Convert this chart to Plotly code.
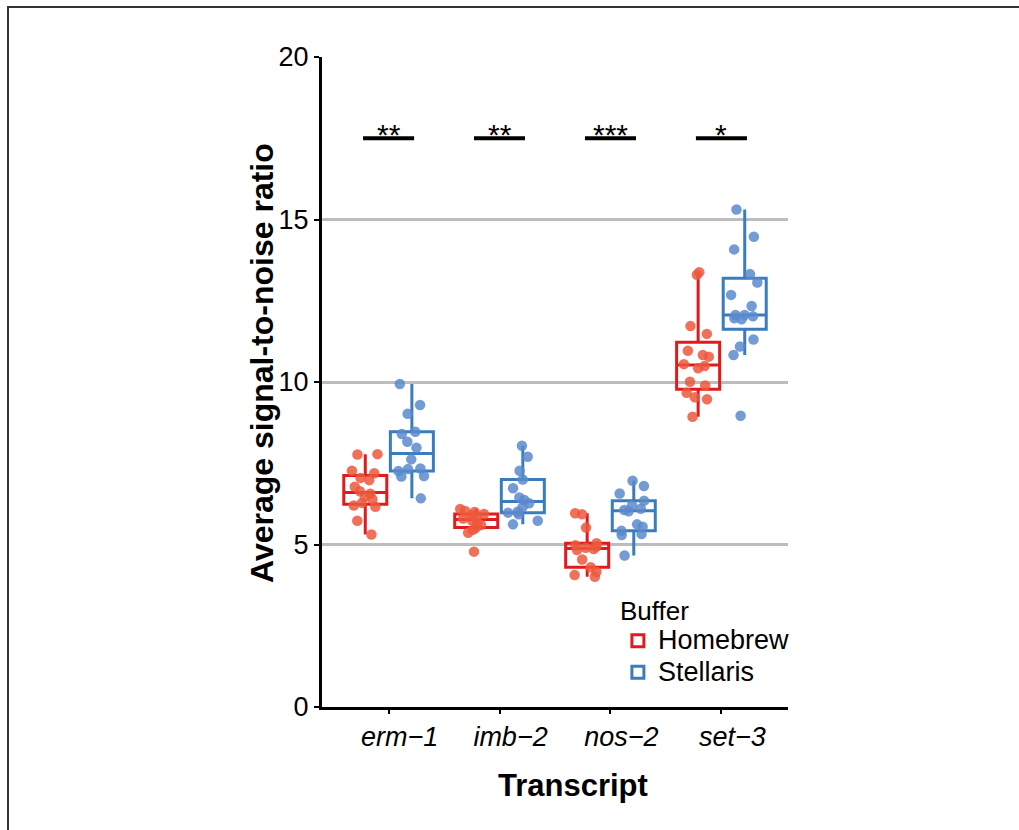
import plotly.graph_objects as go

transcripts = ["erm−1", "imb−2", "nos−2", "set−3"]
sig_labels = ["**", "**", "***", "*"]
sig_level = 17.5

homebrew_erm1 = [5.31, 5.73, 6.16, 6.20, 6.28, 6.39, 6.47, 6.56, 6.64, 6.78, 6.98, 7.05, 7.19, 7.27, 7.77, 7.78]
homebrew_imb2 = [4.78, 5.36, 5.45, 5.52, 5.60, 5.68, 5.74, 5.80, 5.85, 5.90, 5.94, 6.00, 6.03, 6.09]
homebrew_nos2 = [4.01, 4.06, 4.16, 4.30, 4.54, 4.83, 4.86, 4.90, 4.94, 4.98, 5.04, 5.52, 5.93, 5.96]
homebrew_set3 = [8.93, 9.47, 9.53, 9.67, 9.89, 10.01, 10.42, 10.49, 10.55, 10.78, 10.83, 10.96, 11.48, 11.72, 13.30, 13.38]

stellaris_erm1 = [6.42, 7.09, 7.11, 7.26, 7.32, 7.34, 7.62, 7.98, 8.16, 8.40, 8.47, 9.02, 9.29, 9.94]
stellaris_imb2 = [5.62, 5.73, 5.93, 5.98, 6.01, 6.15, 6.27, 6.37, 6.45, 6.73, 7.00, 7.27, 7.70, 8.04]
stellaris_nos2 = [4.66, 5.29, 5.32, 5.42, 5.55, 5.62, 6.02, 6.06, 6.10, 6.20, 6.35, 6.57, 6.80, 6.96]
stellaris_set3 = [8.96, 10.83, 11.09, 11.31, 11.93, 11.96, 12.02, 12.06, 12.06, 12.34, 12.68, 13.06, 13.32, 14.08, 14.47, 15.31]

buffers = ["Homebrew", "Stellaris"]
buffer_data = {
    "Homebrew": [homebrew_erm1, homebrew_imb2, homebrew_nos2, homebrew_set3],
    "Stellaris": [stellaris_erm1, stellaris_imb2, stellaris_nos2, stellaris_set3],
}
line_colors = {"Homebrew": "#E31A1C", "Stellaris": "#3A7DBF"}
point_colors = {"Homebrew": "rgba(236,88,60,0.85)", "Stellaris": "rgba(90,138,204,0.85)"}

FONT = "Liberation Sans, Arial, Helvetica, sans-serif"

fig = go.Figure()
for b in buffers:
    xs, ys = [], []
    for t, vals in zip(transcripts, buffer_data[b]):
        xs += [t] * len(vals)
        ys += vals
    fig.add_trace(go.Box(
        x=xs, y=ys, name='<span style="font-size:27px">%s</span>' % b,
        boxpoints="all", jitter=0.8, pointpos=0,
        quartilemethod="exclusive",
        line=dict(color=line_colors[b], width=3),
        fillcolor="rgba(255,255,255,0)",
        whiskerwidth=0,
        marker=dict(color=point_colors[b], size=10.5, line=dict(width=0)),
        hoverinfo="skip",
    ))

shapes = []
annotations = []
half = 0.23
for i, lab in enumerate(sig_labels):
    shapes.append(dict(type="line", xref="x", yref="y", x0=i - half, x1=i + half,
                       y0=sig_level, y1=sig_level, line=dict(color="black", width=4)))
    annotations.append(dict(x=i, y=sig_level, xref="x", yref="y", text=lab, showarrow=False,
                            yanchor="bottom", yshift=-15,
                            font=dict(family=FONT, size=30, color="black")))

# axis titles
annotations.append(dict(x=(573 - 322) / 466, y=(707 - 785) / 650, xref="paper", yref="paper",
                        text="<b>Transcript</b>", showarrow=False, xanchor="center", yanchor="middle",
                        font=dict(family=FONT, size=31, color="black")))
annotations.append(dict(x=(262 - 322) / 466, y=(707 - 363) / 650, xref="paper", yref="paper",
                        text="<b>Average signal-to-noise ratio</b>", showarrow=False, textangle=-90,
                        xanchor="center", yanchor="middle",
                        font=dict(family=FONT, size=32, color="black")))

# outer frame
shapes.append(dict(type="rect", xref="paper", yref="paper",
                   x0=(8 - 322) / 466, x1=(1040 - 322) / 466,
                   y0=(707 - 850) / 650, y1=(707 - 7) / 650,
                   line=dict(color="#333333", width=2), layer="below"))

fig.update_layout(
    width=1019, height=830,
    margin=dict(l=322, r=231, t=57, b=123),
    paper_bgcolor="white", plot_bgcolor="white",
    boxmode="group", boxgap=0.16, boxgroupgap=0.077,
    font=dict(family=FONT, size=26, color="black"),
    shapes=shapes, annotations=annotations,
    legend=dict(
        title=dict(text="Buffer", font=dict(size=26)),
        font=dict(size=22),
        x=0.635, y=0.186, xanchor="left", yanchor="top",
        bgcolor="rgba(0,0,0,0)", tracegroupgap=0,
    ),
    xaxis=dict(
        type="category", categoryorder="array", categoryarray=transcripts,
        range=[-0.6, 3.6],
        tickvals=transcripts, ticktext=["<i>%s</i>" % t for t in transcripts],
        tickfont=dict(size=27), ticklabelshift=11,
        showline=True, linecolor="black", linewidth=3,
        ticks="outside", ticklen=4, tickwidth=2, tickcolor="black",
        showgrid=False, zeroline=False,
    ),
    yaxis=dict(
        range=[0, 20], tickvals=[0, 5, 10, 15, 20],
        tickfont=dict(size=27),
        showline=True, linecolor="black", linewidth=3,
        ticks="outside", ticklen=5, tickwidth=2, tickcolor="black",
        showgrid=True, gridcolor="#BDBDBD", gridwidth=3,
        zeroline=False,
    ),
)

fig.write_html("out.html", config={"displayModeBar": False},
               post_script="document.body.style.margin='0';")
